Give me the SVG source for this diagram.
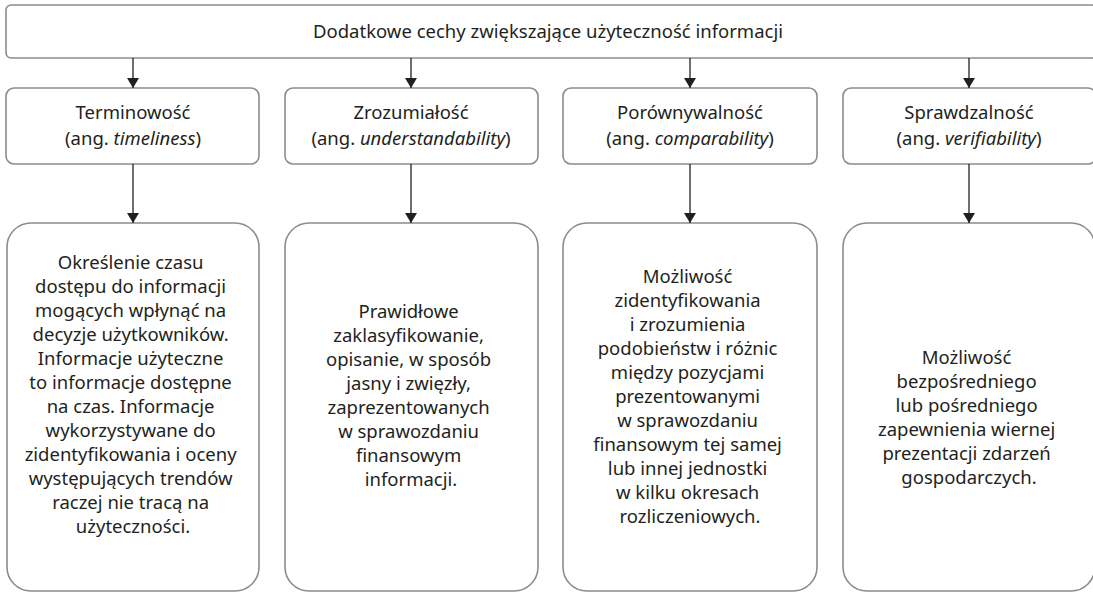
<svg xmlns="http://www.w3.org/2000/svg" width="1093" height="592" viewBox="0 0 1093 592">
<defs>
<style>
.box{fill:#ffffff;stroke:#8c8c8c;stroke-width:1.6}
.t{font-family:"Noto Sans","Open Sans","DejaVu Sans",sans-serif;font-size:18.5px;fill:#231f20;text-anchor:middle}
.i{font-style:italic}
.c{stroke:#231f20;stroke-width:1.3;fill:none}
</style>
<marker id="ah" viewBox="0 0 10 12" refX="10" refY="6" markerWidth="10" markerHeight="12" markerUnits="userSpaceOnUse" orient="auto">
<path d="M0,0 L10,6 L0,12 Z" fill="#231f20"/>
</marker>
</defs>
<rect width="1093" height="592" fill="#ffffff"/>
<g id="top">
<rect class="box" x="6" y="5" width="1091" height="53" rx="5"/>
<text class="t" x="548" y="38">Dodatkowe cechy zwiększające użyteczność informacji</text>
</g>
<g id="n1">
<rect class="box" x="6" y="88" width="253" height="76" rx="8"/>
<text class="t" x="133" y="119">Terminowość</text>
<text class="t" x="133" y="145">(ang. <tspan class="i">timeliness</tspan>)</text>
</g>
<g id="n2">
<rect class="box" x="285" y="88" width="253" height="76" rx="8"/>
<text class="t" x="411" y="119">Zrozumiałość</text>
<text class="t" x="411" y="145">(ang. <tspan class="i">understandability</tspan>)</text>
</g>
<g id="n3">
<rect class="box" x="563" y="88" width="254" height="76" rx="8"/>
<text class="t" x="690" y="119">Porównywalność</text>
<text class="t" x="690" y="145">(ang. <tspan class="i">comparability</tspan>)</text>
</g>
<g id="n4">
<rect class="box" x="843" y="88" width="253" height="76" rx="8"/>
<text class="t" x="969" y="119">Sprawdzalność</text>
<text class="t" x="969" y="145">(ang. <tspan class="i">verifiability</tspan>)</text>
</g>
<g id="d1">
<rect class="box" x="7" y="223" width="252" height="368" rx="24"/>
<text class="t" y="269">
<tspan x="133">Określenie czasu</tspan>
<tspan x="133" dy="24">dostępu do informacji</tspan>
<tspan x="133" dy="24">mogących wpłynąć na</tspan>
<tspan x="133" dy="24">decyzje użytkowników.</tspan>
<tspan x="133" dy="24">Informacje użyteczne</tspan>
<tspan x="133" dy="24">to informacje dostępne</tspan>
<tspan x="133" dy="24">na czas. Informacje</tspan>
<tspan x="133" dy="24">wykorzystywane do</tspan>
<tspan x="133" dy="24">zidentyfikowania i oceny</tspan>
<tspan x="133" dy="24">występujących trendów</tspan>
<tspan x="133" dy="24">raczej nie tracą na</tspan>
<tspan x="133" dy="24">użyteczności.</tspan>
</text>
</g>
<g id="d2">
<rect class="box" x="285" y="223" width="253" height="368" rx="24"/>
<text class="t" y="318">
<tspan x="411">Prawidłowe</tspan>
<tspan x="411" dy="24">zaklasyfikowanie,</tspan>
<tspan x="411" dy="24">opisanie, w sposób</tspan>
<tspan x="411" dy="24">jasny i zwięzły,</tspan>
<tspan x="411" dy="24">zaprezentowanych</tspan>
<tspan x="411" dy="24">w sprawozdaniu</tspan>
<tspan x="411" dy="24">finansowym</tspan>
<tspan x="411" dy="24">informacji.</tspan>
</text>
</g>
<g id="d3">
<rect class="box" x="563" y="223" width="254" height="368" rx="24"/>
<text class="t" y="283">
<tspan x="690">Możliwość</tspan>
<tspan x="690" dy="24">zidentyfikowania</tspan>
<tspan x="690" dy="24">i zrozumienia</tspan>
<tspan x="690" dy="24">podobieństw i różnic</tspan>
<tspan x="690" dy="24">między pozycjami</tspan>
<tspan x="690" dy="24">prezentowanymi</tspan>
<tspan x="690" dy="24">w sprawozdaniu</tspan>
<tspan x="690" dy="24">finansowym tej samej</tspan>
<tspan x="690" dy="24">lub innej jednostki</tspan>
<tspan x="690" dy="24">w kilku okresach</tspan>
<tspan x="690" dy="24">rozliczeniowych.</tspan>
</text>
</g>
<g id="d4">
<rect class="box" x="843" y="223" width="252" height="368" rx="24"/>
<text class="t" y="364">
<tspan x="969">Możliwość</tspan>
<tspan x="969" dy="24">bezpośredniego</tspan>
<tspan x="969" dy="24">lub pośredniego</tspan>
<tspan x="969" dy="24">zapewnienia wiernej</tspan>
<tspan x="969" dy="24">prezentacji zdarzeń</tspan>
<tspan x="969" dy="24">gospodarczych.</tspan>
</text>
</g>
<g id="connectors">
<line class="c" x1="133" y1="58" x2="133" y2="88" marker-end="url(#ah)"/>
<line class="c" x1="411" y1="58" x2="411" y2="88" marker-end="url(#ah)"/>
<line class="c" x1="690" y1="58" x2="690" y2="88" marker-end="url(#ah)"/>
<line class="c" x1="969" y1="58" x2="969" y2="88" marker-end="url(#ah)"/>
<line class="c" x1="133" y1="164" x2="133" y2="223" marker-end="url(#ah)"/>
<line class="c" x1="411" y1="164" x2="411" y2="223" marker-end="url(#ah)"/>
<line class="c" x1="690" y1="164" x2="690" y2="223" marker-end="url(#ah)"/>
<line class="c" x1="969" y1="164" x2="969" y2="223" marker-end="url(#ah)"/>
</g>
</svg>
